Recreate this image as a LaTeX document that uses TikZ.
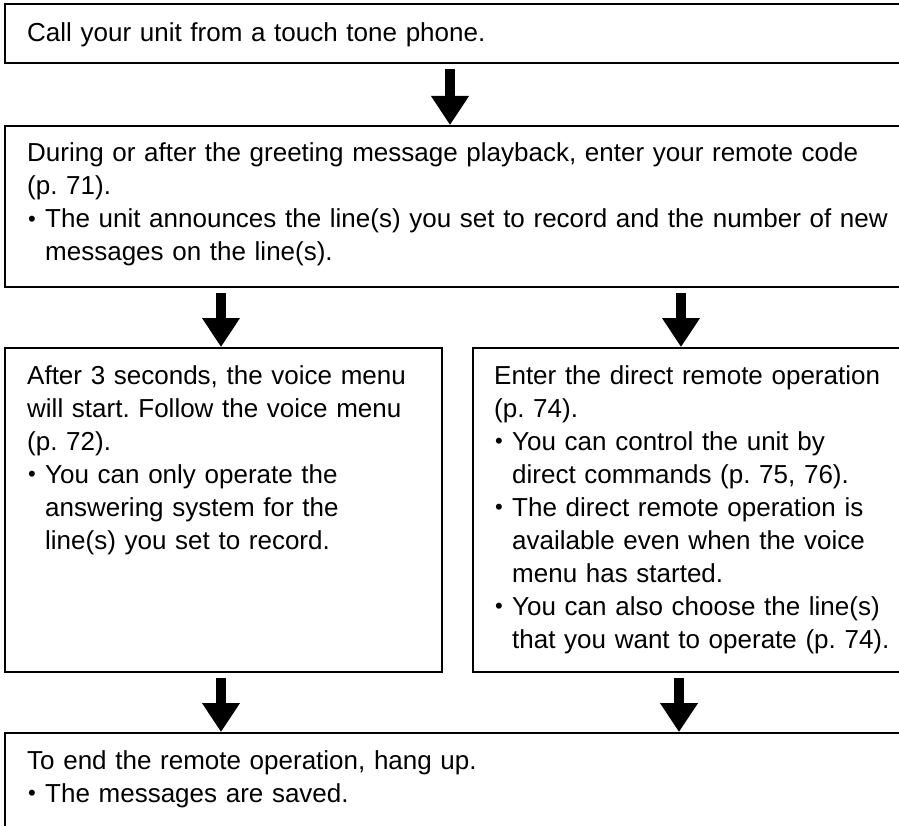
\documentclass[tikz,border=0pt]{standalone}
\usepackage{fontspec}
\setmainfont{Liberation Sans}
\usepackage{graphicx}
\usetikzlibrary{arrows.meta}
\frenchspacing
\newcommand\bul{\makebox[18pt][l]{\hspace*{1pt}\raisebox{1.2pt}{\scalebox{0.85}{•}}}}
\newcommand\ind{\hspace*{18pt}}
\tikzset{
  box/.style={draw=black, line width=1.6pt, fill=none, inner sep=0pt, outer sep=0pt, anchor=north west},
  txt/.style={inner sep=0pt, anchor=base west, align=left, text width=880pt,
    font=\fontsize{26pt}{33pt}\selectfont\frenchspacing},
  bigarrow/.style={line width=10pt, -{Triangle[width=36pt,length=29pt]}, shorten <=6pt, shorten >=1pt}
}
\begin{document}
\begin{tikzpicture}[x=1pt,y=-1pt]
\useasboundingbox (0,0) rectangle (899,826);
\fill[white] (0,0) rectangle (899,826);
\clip (0,0) rectangle (899,826);
% boxes
\node[box, minimum width=906pt, minimum height=59pt] (b1) at (5,4) {};
\node[box, minimum width=906pt, minimum height=161pt] (b2) at (5,126) {};
\node[box, minimum width=437pt, minimum height=324pt] (b3) at (5,348) {};
\node[box, minimum width=440pt, minimum height=324pt] (b4) at (473,348) {};
\node[box, minimum width=906pt, minimum height=120pt] (b5) at (5,733) {};
% texts
\node[txt] (t1) at (27,42) {Call your unit from a touch tone phone.};
\node[txt] (t2) at (27,162) {During or after the greeting message playback, enter your remote code\\
(p. 71).\\
\bul The unit announces the line(s) you set to record and the number of new\\
\ind messages on the line(s).};
\node[txt] (t3) at (27,384) {After 3 seconds, the voice menu\\
will start. Follow the voice menu\\
(p. 72).\\
\bul You can only operate the\\
\ind answering system for the\\
\ind line(s) you set to record.};
\node[txt] (t4) at (494,384) {Enter the direct remote operation\\
(p. 74).\\
\bul You can control the unit by\\
\ind direct commands (p. 75, 76).\\
\bul The direct remote operation is\\
\ind available even when the voice\\
\ind menu has started.\\
\bul You can also choose the line(s)\\
\ind that you want to operate (p. 74).};
\node[txt] (t5) at (27,769) {To end the remote operation, hang up.\\
\bul The messages are saved.};
% arrow positions
\coordinate (c1) at (450,0);
\coordinate (c2) at (221,0);
\coordinate (c3) at (681,0);
\coordinate (c4) at (221,0);
\coordinate (c5) at (679,0);
\draw[bigarrow] (b1.south -| c1) -- (b2.north -| c1);
\draw[bigarrow] (b2.south -| c2) -- (b3.north -| c2);
\draw[bigarrow] (b2.south -| c3) -- (b4.north -| c3);
\draw[bigarrow] (b3.south -| c4) -- (b5.north -| c4);
\draw[bigarrow] (b4.south -| c5) -- (b5.north -| c5);
\end{tikzpicture}
\end{document}
